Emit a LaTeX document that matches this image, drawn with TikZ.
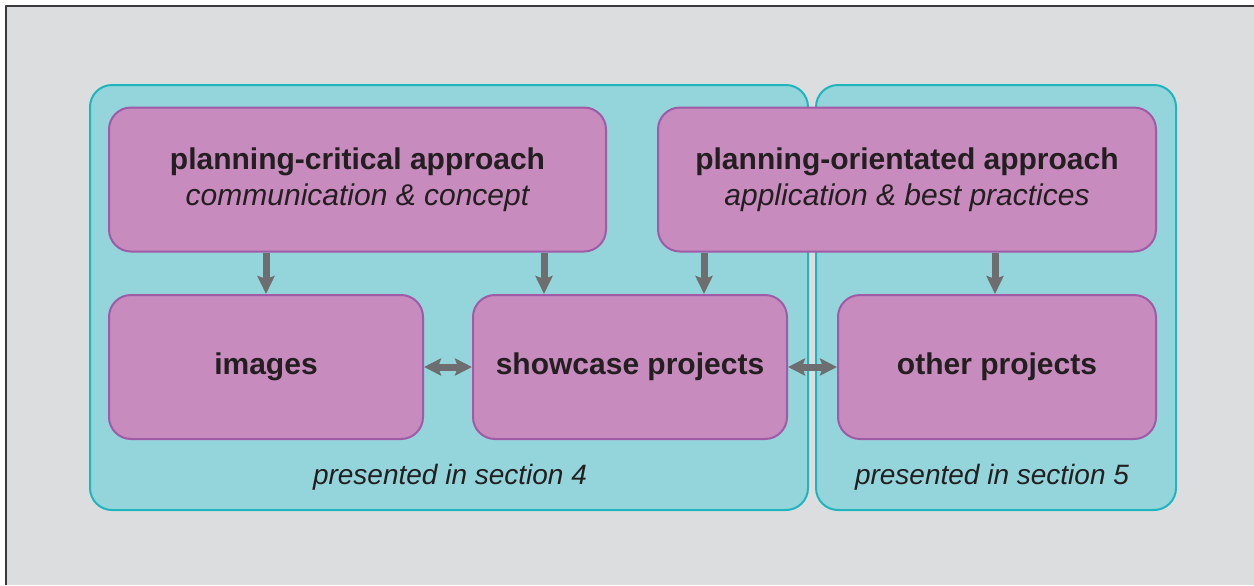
\documentclass[tikz,border=0pt]{standalone}
\usepackage{fontspec}
\setmainfont{Liberation Sans}
\usetikzlibrary{arrows.meta}
\definecolor{bggray}{HTML}{DCDDDF}
\definecolor{framegray}{HTML}{3A3A3C}
\definecolor{panelfill}{HTML}{93D5DB}
\definecolor{panelline}{HTML}{1FB5BC}
\definecolor{boxfill}{HTML}{C78BBE}
\definecolor{boxline}{HTML}{A05BA7}
\definecolor{arrgray}{HTML}{6E6E70}
\definecolor{txt}{HTML}{231F20}
\begin{document}
\begin{tikzpicture}[x=0.5pt,y=-0.5pt,line join=round,
	panel/.style={draw=panelline,fill=panelfill,line width=1pt,rounded corners=11pt},
	box/.style={draw=boxline,fill=boxfill,line width=1pt,rounded corners=11pt,inner sep=0pt,align=center,text=txt,minimum height=72pt},
	bf/.style={font=\fontsize{15}{18}\selectfont\bfseries},
	lbl/.style={text=txt,font=\fontsize{14}{17}\selectfont\itshape},
	arr/.style={draw=arrgray,line width=3.5pt,-{Stealth[length=9pt,width=8.5pt,inset=1.5pt]}},
	darr/.style={draw=arrgray,line width=3.5pt,{Stealth[length=8.5pt,width=8.5pt,inset=1.5pt]}-{Stealth[length=8.5pt,width=8.5pt,inset=1.5pt]}}]
	\useasboundingbox (0,0) rectangle (1254,585);
	% frame
	\fill[bggray] (6,6) rectangle (1254,585);
	\draw[framegray,line width=1pt] (6,585)--(6,6)--(1254,6);
	% panels
	\draw[panel] (90,85) rectangle (808,510);
	\draw[panel] (816,85) rectangle (1176,510);
	\path 
	(357.5,179.5) node[box,bf,minimum width=248.5pt] (pca) {planning-critical approach\\{\mdseries\itshape communication \& concept}}
	(907,179.5) node[box,bf,minimum width=249pt] (poa) {planning-orientated approach\\{\mdseries\itshape application \& best practices}}
	(266,367) node[box,bf,minimum width=157pt] (img) {images}
	(630,367) node[box,bf,minimum width=157pt] (sp) {showcase projects}
	(997,367) node[box,bf,minimum width=159pt] (op) {other projects}
	(450,477) node[lbl] (sec4) {presented in section 4}
	(992,477) node[lbl] (sec5) {presented in section 5}
	;
	\draw[arr] (pca.south -| img.north)--(img.north);
	\draw[arr] (pca.south -| 544,0)--(sp.north -| 544,0);
	\draw[arr] (poa.south -| 704,0)--(sp.north -| 704,0);
	\draw[arr] (poa.south -| 995,0)--(op.north -| 995,0);
	\draw[darr] (img.east)--(sp.west);
	\draw[darr] (sp.east)--(op.west);
\end{tikzpicture}
\end{document}
